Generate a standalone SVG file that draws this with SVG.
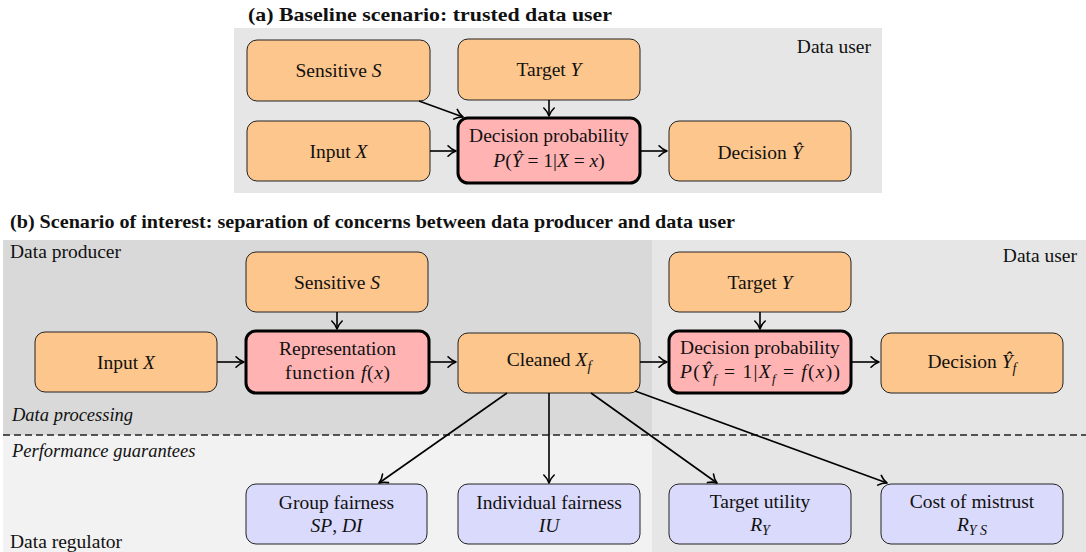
<svg xmlns="http://www.w3.org/2000/svg" width="1086" height="552" viewBox="0 0 1086 552">
<defs>
<style>
text{font-family:"Liberation Serif","DejaVu Serif",serif;font-size:19.5px;fill:#111}
.c{text-anchor:middle}
.r{text-anchor:end}
.i{font-style:italic}
.b{font-weight:bold}
.lab{font-size:18.5px;font-style:italic}
.n{fill:#fdc68c;stroke:#222;stroke-width:1}
.k{fill:#ffb3b3;stroke:#000;stroke-width:3}
.g{fill:#dadafc;stroke:#222;stroke-width:1}
.e{stroke:#000;stroke-width:1.6;fill:none;marker-end:url(#ah)}
</style>
<marker id="ah" markerUnits="userSpaceOnUse" markerWidth="14" markerHeight="14" refX="11" refY="7" orient="auto">
<path d="M3,1.8 Q6.5,5.6 11,7 Q6.5,8.4 3,12.2" fill="none" stroke="#000" stroke-width="1.6" stroke-linecap="round" stroke-linejoin="round"/>
</marker>
</defs>

<!-- Panel (a) -->
<g id="panel-a">
<text x="248" y="21" class="b" font-size="18" textLength="364" lengthAdjust="spacingAndGlyphs">(a) Baseline scenario: trusted data user</text>
<rect x="234" y="28" width="648" height="165" fill="#e6e6e6"/>
<text x="871" y="53" class="r">Data user</text>
</g>
<g id="a-sensitive"><rect class="n" x="247" y="40" width="183" height="61" rx="10"/><text class="c" x="338.5" y="77">Sensitive <tspan class="i">S</tspan></text></g>
<g id="a-target"><rect class="n" x="458" y="39" width="182" height="61" rx="10"/><text class="c" x="549" y="76">Target <tspan class="i">Y</tspan></text></g>
<g id="a-input"><rect class="n" x="247" y="121" width="183" height="60" rx="10"/><text class="c" x="338.5" y="158">Input <tspan class="i">X</tspan></text></g>
<g id="a-decprob"><rect class="k" x="458" y="118" width="182" height="65" rx="10"/><text class="c" x="549" y="142">Decision probability</text><text class="c" x="549" y="167" font-size="18"><tspan class="i">P</tspan>(<tspan class="i">Ŷ</tspan> = 1|<tspan class="i">X</tspan> = <tspan class="i">x</tspan>)</text></g>
<g id="a-decision"><rect class="n" x="669" y="121" width="182" height="60" rx="10"/><text class="c" x="760" y="159">Decision <tspan class="i">Ŷ</tspan></text></g>

<!-- Panel (b) -->
<g id="panel-b">
<text x="10" y="228" class="b" font-size="18" textLength="725" lengthAdjust="spacingAndGlyphs">(b) Scenario of interest: separation of concerns between data producer and data user</text>
<rect x="3" y="240" width="649" height="195" fill="#d9d9d9"/>
<rect x="652" y="240" width="434" height="312" fill="#e6e6e6"/>
<rect x="3" y="435" width="649" height="117" fill="#f2f2f2"/>
<line x1="3" y1="435" x2="1086" y2="435" stroke="#222" stroke-width="1.6" stroke-dasharray="7,4"/>
<text x="10" y="258">Data producer</text>
<text x="1077" y="262" class="r">Data user</text>
<text x="12" y="421" class="lab">Data processing</text>
<text x="12" y="457" class="lab">Performance guarantees</text>
<text x="10" y="548">Data regulator</text>
</g>
<g id="b-sensitive"><rect class="n" x="246" y="252" width="182" height="60" rx="10"/><text class="c" x="337" y="289">Sensitive <tspan class="i">S</tspan></text></g>
<g id="b-input"><rect class="n" x="35" y="332" width="182" height="60" rx="10"/><text class="c" x="126" y="369">Input <tspan class="i">X</tspan></text></g>
<g id="b-rep"><rect class="k" x="246" y="331" width="183" height="62" rx="10"/><text class="c" x="337.5" y="355">Representation</text><text class="c" x="337.5" y="379" textLength="105" lengthAdjust="spacing">function <tspan class="i">f</tspan>(<tspan class="i">x</tspan>)</text></g>
<g id="b-cleaned"><rect class="n" x="458" y="333" width="182" height="60" rx="10"/><text class="c" x="549" y="366">Cleaned <tspan class="i">X<tspan dy="5" font-size="14">f</tspan></tspan></text></g>
<g id="b-target"><rect class="n" x="669" y="252" width="182" height="60" rx="10"/><text class="c" x="760" y="289">Target <tspan class="i">Y</tspan></text></g>
<g id="b-decprob"><rect class="k" x="669" y="331" width="182" height="62" rx="10"/><text class="c" x="760" y="354">Decision probability</text><text class="c" x="760" y="378" font-size="18" textLength="160" lengthAdjust="spacing"><tspan class="i">P</tspan>(<tspan class="i">Ŷ</tspan><tspan class="i" dy="5" font-size="13">f</tspan><tspan dy="-5"> = 1|</tspan><tspan class="i">X</tspan><tspan class="i" dy="5" font-size="13">f</tspan><tspan dy="-5"> = </tspan><tspan class="i">f</tspan>(<tspan class="i">x</tspan>))</text></g>
<g id="b-decision"><rect class="n" x="881" y="333" width="182" height="60" rx="10"/><text class="c" x="972" y="368">Decision <tspan class="i">Ŷ</tspan><tspan class="i" dy="5" font-size="14">f</tspan></text></g>
<g id="b-group"><rect class="g" x="246" y="484" width="181" height="60" rx="10"/><text class="c" x="336.5" y="509">Group fairness</text><text class="c i" x="336.5" y="532">SP<tspan font-style="normal">, </tspan>DI</text></g>
<g id="b-indiv"><rect class="g" x="458" y="484" width="182" height="60" rx="10"/><text class="c" x="549" y="509">Individual fairness</text><text class="c i" x="549" y="532">IU</text></g>
<g id="b-utility"><rect class="g" x="669" y="484" width="182" height="60" rx="10"/><text class="c" x="760" y="508">Target utility</text><text class="c i" x="760" y="531">R<tspan dy="4" font-size="14">Y</tspan></text></g>
<g id="b-mistrust"><rect class="g" x="881" y="484" width="182" height="60" rx="10"/><text class="c" x="972" y="508">Cost of mistrust</text><text class="c i" x="972" y="531">R<tspan dy="4" font-size="14">Y S</tspan></text></g>

<g id="connectors">
<line class="e" x1="419" y1="101" x2="463" y2="117"/>
<line class="e" x1="549" y1="100" x2="549" y2="116"/>
<line class="e" x1="430" y1="151" x2="456" y2="151"/>
<line class="e" x1="640" y1="151" x2="667" y2="151"/>
<line class="e" x1="337" y1="312" x2="337" y2="329"/>
<line class="e" x1="217" y1="362" x2="244" y2="362"/>
<line class="e" x1="429" y1="362" x2="456" y2="362"/>
<line class="e" x1="640" y1="362" x2="667" y2="362"/>
<line class="e" x1="760" y1="312" x2="760" y2="329"/>
<line class="e" x1="851" y1="362" x2="879" y2="362"/>
<line class="e" x1="507" y1="393" x2="379" y2="483"/>
<line class="e" x1="549" y1="393" x2="549" y2="483"/>
<line class="e" x1="591" y1="393" x2="717" y2="483"/>
<line class="e" x1="635" y1="391" x2="887" y2="483"/>
</g>
</svg>
